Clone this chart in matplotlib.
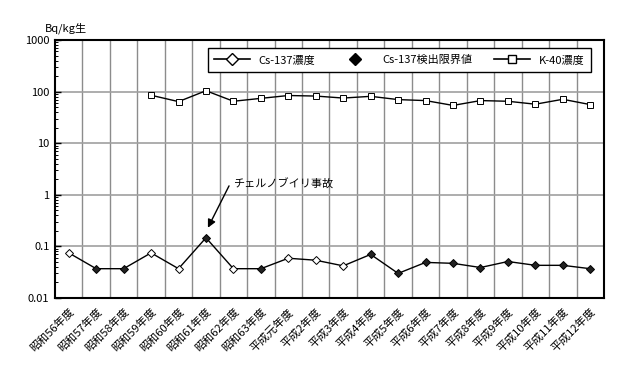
import numpy as np
import matplotlib.pyplot as plt
from matplotlib.lines import Line2D
from matplotlib.ticker import LogLocator, NullFormatter

plt.rcParams['font.family'] = ['Noto Sans CJK JP', 'DejaVu Sans']

# 年度ラベル
years = ['昭和56年度', '昭和57年度', '昭和58年度', '昭和59年度', '昭和60年度',
         '昭和61年度', '昭和62年度', '昭和63年度', '平成元年度', '平成2年度',
         '平成3年度', '平成4年度', '平成5年度', '平成6年度', '平成7年度',
         '平成8年度', '平成9年度', '平成10年度', '平成11年度', '平成12年度']

# Cs-137 (Bq/kg生)
cs137 = [0.075, 0.037, 0.037, 0.075, 0.037, 0.147, 0.037, 0.037, 0.059, 0.054,
         0.042, 0.070, 0.030, 0.049, 0.047, 0.039, 0.051, 0.043, 0.043, 0.037]
# True = 検出限界値
cs_limit = [False, True, True, False, False, True, False, True, False, False,
            False, True, True, True, True, True, True, True, True, True]

# K-40 (昭和59年度から)
k40 = [np.nan, np.nan, np.nan, 85, 64, 104, 65, 74, 84, 82,
       75, 81, 70, 67, 54, 67, 65, 57, 71, 56]

x = np.arange(len(years))
cs137 = np.array(cs137)
cs_limit = np.array(cs_limit)
k40 = np.array(k40, dtype=float)

fig = plt.figure(figsize=(6.2, 3.76), dpi=100)
ax = fig.add_axes([0.0887, 0.2074, 0.8855, 0.6862])

# グリッド
for b in np.arange(0.5, len(years) - 0.5, 1):
    ax.axvline(b, color='#8c8c8c', linewidth=1.0, zorder=1)
for v in [0.1, 1, 10, 100]:
    ax.axhline(v, color='#a0a0a0', linewidth=1.2, zorder=1)

# Cs-137
ax.plot(x, cs137, color='black', linewidth=1.0, zorder=3)
ax.plot(x[~cs_limit], cs137[~cs_limit], linestyle='none', marker='D', markersize=4,
        markerfacecolor='white', markeredgecolor='black', markeredgewidth=0.7, zorder=4)
ax.plot(x[cs_limit], cs137[cs_limit], linestyle='none', marker='D', markersize=4,
        markerfacecolor='#222222', markeredgecolor='black', markeredgewidth=0.7, zorder=4)

# K-40
ax.plot(x, k40, color='black', linewidth=1.0, marker='s', markersize=5,
        markerfacecolor='white', markeredgecolor='black', markeredgewidth=0.7, zorder=4)

ax.set_yscale('log')
ax.set_ylim(0.01, 1000)
ax.set_xlim(-0.5, len(years) - 0.5)
ax.set_yticks([0.01, 0.1, 1, 10, 100, 1000])
ax.set_yticklabels(['0.01', '0.1', '1', '10', '100', '1000'])
ax.yaxis.set_minor_locator(LogLocator(base=10, subs=np.arange(2, 10)))
ax.yaxis.set_minor_formatter(NullFormatter())
ax.tick_params(axis='y', which='major', direction='in', length=4, width=1, labelsize=8, pad=4)
ax.tick_params(axis='y', which='minor', direction='in', length=2, width=0.7)
ax.set_xticks(x)
ax.set_xticklabels(years, rotation=45, ha='right', rotation_mode='anchor', fontsize=8)
ax.tick_params(axis='x', length=0, pad=6)

for s in ax.spines.values():
    s.set_linewidth(1.5)
    s.set_color('black')

fig.text(0.072, 0.925, 'Bq/kg生', fontsize=8, ha='left', va='center')

# 注記
ax.text(5.98, 1.63, 'チェルノブイリ事故', fontsize=8, ha='left', va='center')
ax.annotate('', xy=(5.07, 0.23), xytext=(5.84, 1.49),
            arrowprops=dict(arrowstyle='-|>', color='black', lw=1.0,
                            mutation_scale=12, shrinkA=0, shrinkB=0))

# 凡例
handles = [
    Line2D([], [], color='black', linewidth=1.2, marker='D', markersize=6,
           markerfacecolor='white', markeredgecolor='black'),
    Line2D([], [], linestyle='none', marker='D', markersize=6,
           markerfacecolor='black', markeredgecolor='black'),
    Line2D([], [], color='black', linewidth=1.2, marker='s', markersize=6,
           markerfacecolor='white', markeredgecolor='black'),
]
labels = ['Cs-137濃度', 'Cs-137検出限界値', 'K-40濃度']
leg = ax.legend(handles, labels, ncol=3, loc='upper right',
                bbox_to_anchor=(0.987, 0.99), fontsize=8, frameon=True,
                fancybox=False, edgecolor='black', framealpha=1,
                handlelength=3.2, columnspacing=2.0, borderpad=0.6)
leg.get_frame().set_linewidth(1.0)
leg.set_zorder(5)

fig.savefig('out.png', dpi=100)
